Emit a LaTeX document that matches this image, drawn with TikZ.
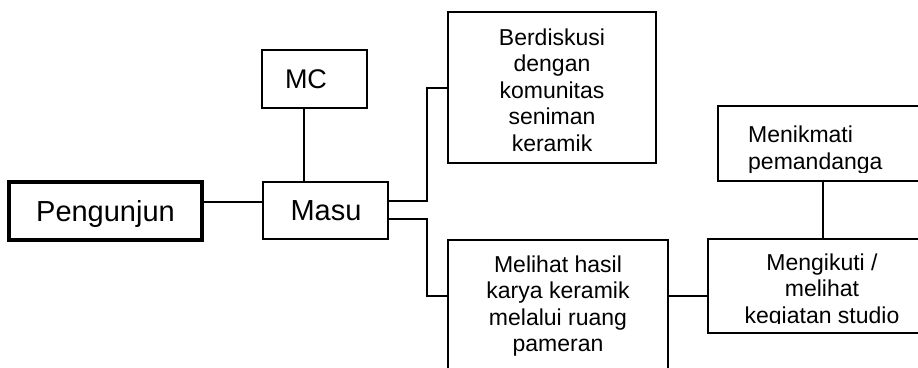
\documentclass[tikz,border=0pt]{standalone}
\usepackage{fontspec}
\setmainfont{Liberation Sans}
\begin{document}
\begin{tikzpicture}[x=1pt,y=-1pt,
  box/.style={draw, line width=1.2pt, inner sep=0pt},
  thickbox/.style={draw, line width=3.2pt, inner sep=0pt},
  link/.style={line width=1.1pt},
  lbl/.style={inner sep=0pt, anchor=base, align=center, font=\fontsize{23}{26.5}\selectfont},
  big/.style={inner sep=0pt, anchor=base, font=\fontsize{29}{34}\selectfont}]
\useasboundingbox (0,0) rectangle (918,367);
% boxes
\node[thickbox, minimum width=193pt, minimum height=58pt] (peng) at (105.5,211) {};
\node[box, minimum width=125pt, minimum height=57pt] (masu) at (325.5,210.5) {};
\node[box, minimum width=105pt, minimum height=58pt] (mc) at (314.5,79) {};
\node[box, minimum width=208pt, minimum height=151pt] (berd) at (552,87.5) {};
\node[box, minimum width=212pt, minimum height=75pt] (menik) at (824,143.5) {};
\node[box, minimum width=220pt, minimum height=150pt] (meli) at (558,315) {};
\node[box, minimum width=228pt, minimum height=94pt] (mengi) at (822,286) {};
% connector levels
\coordinate (h1) at (0,202);
\coordinate (v1) at (304,0);
\coordinate (bx) at (427,0);
\coordinate (u1) at (0,201);
\coordinate (u2) at (0,219);
\coordinate (b1) at (0,88);
\coordinate (b2) at (0,296);
\coordinate (v2) at (823,0);
\draw[link] (peng.east |- h1) -- (masu.west |- h1);
\draw[link] (mc.south -| v1) -- (masu.north -| v1);
\draw[link] (masu.east |- u1) -| (bx |- b1) -- (berd.west |- b1);
\draw[link] (masu.east |- u2) -| (bx |- b2) -- (meli.west |- b2);
\draw[link] (meli.east |- b2) -- (mengi.west |- b2);
\draw[link] (menik.south -| v2) -- (mengi.north -| v2);
% texts
\node[big] (tpeng) at (105.5,221) {Pengunjun};
\node[big] (tmasu) at (326,220) {Masu};
\node[inner sep=0pt, anchor=base, font=\fontsize{27}{32}\selectfont] (tmc) at (306,88) {MC};
\begin{scope}
  \clip (berd.north west) rectangle (berd.south east);
  \node[lbl] (tberd) at (552,151) {Berdiskusi\\dengan\\komunitas\\seniman\\keramik};
\end{scope}
\begin{scope}
  \clip (718,106) rectangle (918,172);
  \node[lbl, align=left, anchor=base west] (tmenik) at (748,169) {Menikmati\\pemandanga};
\end{scope}
\begin{scope}
  \clip (meli.north west) rectangle (918,367);
  \node[lbl] (tmeli) at (558,351.5) {Melihat hasil\\karya keramik\\melalui ruang\\pameran};
\end{scope}
\begin{scope}
  \clip (708,239) rectangle (918,323);
  \node[lbl] (tmengi) at (822,323) {Mengikuti /\\melihat\\kegiatan studio};
\end{scope}
\end{tikzpicture}
\end{document}
